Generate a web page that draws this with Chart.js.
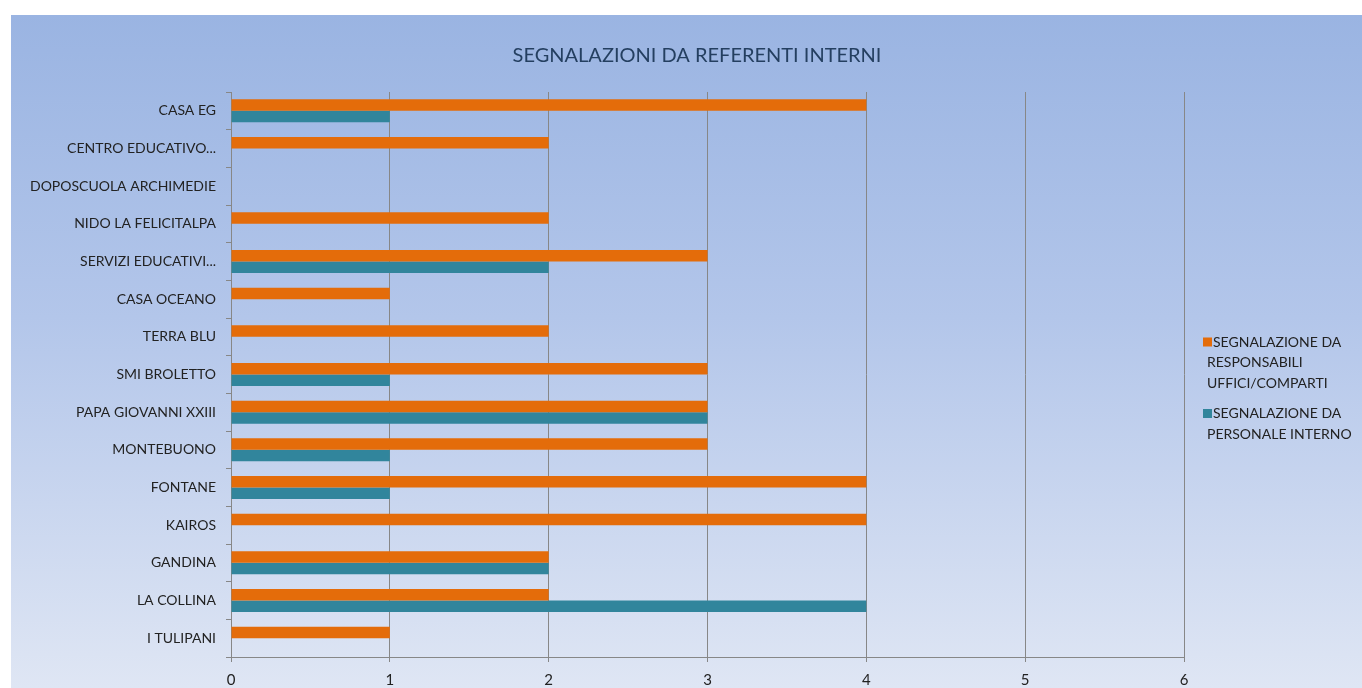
<!DOCTYPE html>
<html>
<head>
<meta charset="utf-8">
<script src="https://cdn.jsdelivr.net/npm/chart.js@4.4.1/dist/chart.umd.min.js"></script>
<style>
  html, body { margin: 0; padding: 0; background: #fff; }
  #box {
    position: absolute; left: 11px; top: 15px; width: 1351px; height: 673px;
    background: linear-gradient(to bottom, #9ab4e2 0%, #b3c6ea 45%, #dfe6f4 100%);
  }
  #chart { display: block; }
</style>
</head>
<body>
<div id="box"><canvas id="chart" width="1351" height="673"></canvas></div>
<script>
// strutture
const categories = [
  "CASA EG", "CENTRO EDUCATIVO...", "DOPOSCUOLA ARCHIMEDIE", "NIDO LA FELICITALPA",
  "SERVIZI EDUCATIVI...", "CASA OCEANO", "TERRA BLU", "SMI BROLETTO",
  "PAPA GIOVANNI XXIII", "MONTEBUONO", "FONTANE", "KAIROS",
  "GANDINA", "LA COLLINA", "I TULIPANI"
];
const responsabili = [4, 2, 0, 2, 3, 1, 2, 3, 3, 3, 4, 4, 2, 2, 1];
const personale    = [1, 0, 0, 0, 2, 0, 0, 1, 3, 1, 1, 0, 2, 4, 0];
const xTicks = [0, 1, 2, 3, 4, 5, 6];
const chartTitle = "SEGNALAZIONI DA REFERENTI INTERNI";

const FONT = "Lato, 'Open Sans', sans-serif";
const GRID = "#878787";
const TEXT = "#222222";

// titolo centrato sul riquadro e legenda a destra con etichette su più righe
const decorations = {
  id: "decorations",
  afterDraw(chart) {
    const ctx = chart.ctx;
    ctx.save();
    ctx.textBaseline = "middle";

    ctx.font = "20px " + FONT;
    ctx.fillStyle = "#243f60";
    ctx.textAlign = "center";
    ctx.fillText(chartTitle, 686, 41);

    ctx.textAlign = "left";
    ctx.font = "14px " + FONT;
    const x0 = 1192;
    let y = 327;
    chart.data.datasets.forEach(ds => {
      ctx.fillStyle = ds.backgroundColor;
      ctx.fillRect(x0, y - 4.5, 9, 9);
      ctx.fillStyle = TEXT;
      ds.legendLines.forEach((line, i) => {
        ctx.fillText(line, i === 0 ? x0 + 10 : x0 + 4, y + i * 20.5);
      });
      y += ds.legendLines.length * 20.5 + 10;
    });
    ctx.restore();
  }
};

new Chart(document.getElementById("chart"), {
  type: "bar",
  data: {
    labels: categories,
    datasets: [
      {
        label: "SEGNALAZIONE DA RESPONSABILI UFFICI/COMPARTI",
        legendLines: ["SEGNALAZIONE DA", "RESPONSABILI", "UFFICI/COMPARTI"],
        data: responsabili,
        backgroundColor: "#e46c0a"
      },
      {
        label: "SEGNALAZIONE DA PERSONALE INTERNO",
        legendLines: ["SEGNALAZIONE DA", "PERSONALE INTERNO"],
        data: personale,
        backgroundColor: "#31859c"
      }
    ]
  },
  options: {
    indexAxis: "y",
    responsive: false,
    animation: false,
    categoryPercentage: 0.61,
    barPercentage: 1.0,
    layout: { padding: { left: 0, right: 178, top: 77, bottom: 0 } },
    plugins: {
      legend: { display: false },
      tooltip: { enabled: false },
      title: { display: false }
    },
    scales: {
      x: {
        min: 0,
        max: 6,
        afterBuildTicks(scale) { scale.ticks = xTicks.map(v => ({ value: v })); },
        afterFit(scale) { scale.height = 31; },
        grid: { color: GRID, tickLength: 5, tickColor: GRID },
        border: { color: GRID },
        ticks: { color: TEXT, padding: 9, font: { family: FONT, size: 15 } }
      },
      y: {
        afterFit(scale) { scale.width = 220; },
        grid: { drawOnChartArea: false, tickLength: 5, color: GRID, offset: true },
        border: { color: GRID },
        ticks: { color: TEXT, padding: 10, font: { family: FONT, size: 14 } }
      }
    }
  },
  plugins: [decorations]
});
</script>
</body>
</html>
